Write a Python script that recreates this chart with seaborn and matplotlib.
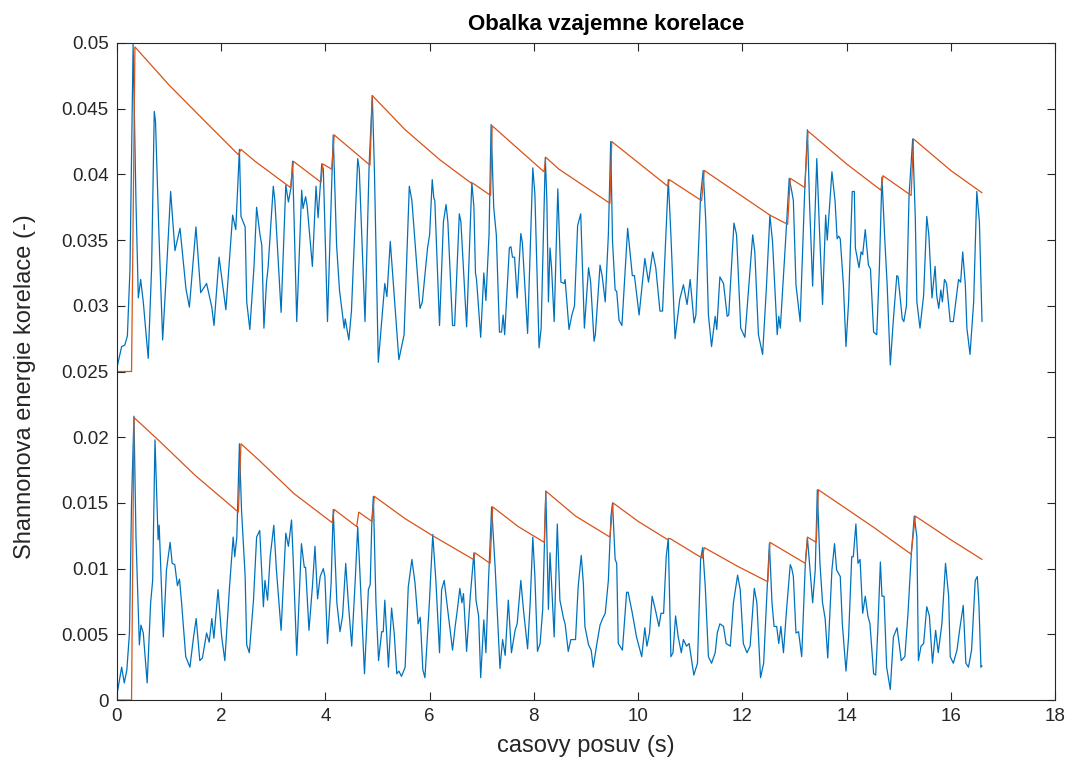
import matplotlib
matplotlib.use("Agg")
import matplotlib.pyplot as plt
import seaborn as sns
import pandas as pd

# ---- upper signal (blue) ----
top_t = [0.00, 0.09, 0.15, 0.20, 0.25, 0.31, 0.365, 0.41, 0.455, 0.505, 0.60, 0.665, 0.716, 0.74, 0.806, 0.877,
         0.954, 1.03, 1.113, 1.21, 1.324, 1.39, 1.516, 1.607, 1.72, 1.82, 1.862, 1.96, 2.09, 2.22, 2.28, 2.35,
         2.38, 2.46, 2.49, 2.55, 2.63, 2.68, 2.745, 2.78, 2.82, 2.87, 2.90, 3.00, 3.03, 3.15, 3.24, 3.29, 3.34,
         3.37, 3.45, 3.545, 3.57, 3.62, 3.65, 3.75, 3.82, 3.86, 3.93, 3.96, 4.04, 4.15, 4.215, 4.27, 4.36, 4.38,
         4.45, 4.50, 4.62, 4.65, 4.76, 4.84, 4.90, 4.94, 5.015, 5.14, 5.18, 5.245, 5.28, 5.41, 5.51, 5.61, 5.66,
         5.815, 5.86, 5.96, 6.00, 6.05, 6.08, 6.10, 6.19, 6.265, 6.315, 6.35, 6.44, 6.48, 6.57, 6.60, 6.71, 6.81,
         6.85, 6.88, 6.90, 6.98, 7.04, 7.08, 7.14, 7.18, 7.23, 7.28, 7.34, 7.38, 7.41, 7.44, 7.53, 7.56, 7.59,
         7.63, 7.68, 7.75, 7.78, 7.88, 7.98, 8.02, 8.10, 8.14, 8.22, 8.25, 8.28, 8.31, 8.34, 8.39, 8.46, 8.52,
         8.58, 8.60, 8.675, 8.73, 8.78, 8.84, 8.90, 8.97, 9.05, 9.09, 9.155, 9.18, 9.27, 9.31, 9.37, 9.43, 9.475,
         9.51, 9.56, 9.59, 9.635, 9.69, 9.80, 9.89, 9.93, 10.02, 10.13, 10.20, 10.28, 10.34, 10.42, 10.47, 10.58,
         10.63, 10.71, 10.80, 10.87, 10.94, 11.00, 11.075, 11.11, 11.20, 11.25, 11.30, 11.35, 11.41, 11.48, 11.51,
         11.57, 11.64, 11.71, 11.74, 11.84, 11.89, 11.97, 12.05, 12.13, 12.20, 12.24, 12.31, 12.39, 12.46, 12.53,
         12.58, 12.67, 12.70, 12.73, 12.83, 12.90, 12.95, 12.98, 13.03, 13.11, 13.20, 13.25, 13.29, 13.35, 13.43,
         13.48, 13.54, 13.60, 13.63, 13.72, 13.78, 13.82, 13.85, 13.88, 13.94, 13.99, 14.04, 14.11, 14.15, 14.17,
         14.24, 14.28, 14.31, 14.36, 14.42, 14.46, 14.52, 14.58, 14.63, 14.68, 14.73, 14.78, 14.84, 14.90, 14.965,
         14.99, 15.07, 15.10, 15.15, 15.20, 15.27, 15.32, 15.35, 15.41, 15.48, 15.54, 15.58, 15.64, 15.70, 15.73,
         15.77, 15.81, 15.84, 15.88, 15.92, 15.99, 16.05, 16.15, 16.19, 16.23, 16.28, 16.31, 16.37, 16.44, 16.50,
         16.55, 16.60]
top_v = [0.0253, 0.0269, 0.0270, 0.0277, 0.0328, 0.0499, 0.0379, 0.0306, 0.0320, 0.0303, 0.0260, 0.0329, 0.0448,
         0.0440, 0.0354, 0.0274, 0.0329, 0.0387, 0.0342, 0.0359, 0.0313, 0.0299, 0.0360, 0.0310, 0.0317, 0.0299,
         0.0285, 0.0337, 0.0297, 0.0369, 0.0358, 0.0419, 0.0368, 0.0360, 0.0303, 0.0282, 0.0330, 0.0375, 0.0354,
         0.0346, 0.0283, 0.0318, 0.0329, 0.0391, 0.0380, 0.0295, 0.0392, 0.0379, 0.0390, 0.0410, 0.0288, 0.0388,
         0.0374, 0.0383, 0.0376, 0.0330, 0.0391, 0.0367, 0.0408, 0.0404, 0.0288, 0.0430, 0.0346, 0.0312, 0.0283,
         0.0290, 0.0274, 0.0296, 0.0412, 0.0404, 0.0288, 0.0408, 0.0460, 0.0404, 0.0257, 0.0317, 0.0307, 0.0349,
         0.0330, 0.0259, 0.0278, 0.0391, 0.0380, 0.0298, 0.0303, 0.0344, 0.0354, 0.0396, 0.0382, 0.0380, 0.0285,
         0.0364, 0.0377, 0.0364, 0.0285, 0.0285, 0.0370, 0.0364, 0.0284, 0.0394, 0.0375, 0.0325, 0.0320, 0.0276,
         0.0325, 0.0304, 0.0354, 0.0438, 0.0375, 0.0354, 0.0280, 0.0280, 0.0293, 0.0278, 0.0344, 0.0345, 0.0337,
         0.0337, 0.0306, 0.0355, 0.0348, 0.0279, 0.0405, 0.0385, 0.0268, 0.0283, 0.0413, 0.0380, 0.0303, 0.0344,
         0.0329, 0.0288, 0.0389, 0.0318, 0.0317, 0.0320, 0.0282, 0.0293, 0.0300, 0.0361, 0.0370, 0.0283, 0.0329,
         0.0318, 0.0273, 0.0278, 0.0331, 0.0323, 0.0303, 0.0354, 0.0425, 0.0349, 0.0312, 0.0311, 0.0289, 0.0285,
         0.0359, 0.0323, 0.0323, 0.0293, 0.0336, 0.0318, 0.0341, 0.0329, 0.0296, 0.0296, 0.0396, 0.0354, 0.0275,
         0.0305, 0.0316, 0.0301, 0.0320, 0.0287, 0.0293, 0.0384, 0.0403, 0.0364, 0.0293, 0.0269, 0.0292, 0.0282,
         0.0322, 0.0317, 0.0292, 0.0293, 0.0363, 0.0354, 0.0283, 0.0276, 0.0318, 0.0354, 0.0341, 0.0278, 0.0263,
         0.0312, 0.0369, 0.0349, 0.0278, 0.0292, 0.0283, 0.0349, 0.0397, 0.0387, 0.0380, 0.0316, 0.0288, 0.0390,
         0.0434, 0.0379, 0.0315, 0.0412, 0.0359, 0.0301, 0.0369, 0.0350, 0.0402, 0.0380, 0.0351, 0.0353, 0.0351,
         0.0316, 0.0269, 0.0303, 0.0387, 0.0387, 0.0344, 0.0329, 0.0341, 0.0339, 0.0358, 0.0331, 0.0328, 0.0280,
         0.0278, 0.0328, 0.0398, 0.0354, 0.0316, 0.0255, 0.0290, 0.0323, 0.0322, 0.0290, 0.0288, 0.0300, 0.0384,
         0.0427, 0.0367, 0.0303, 0.0283, 0.0308, 0.0368, 0.0354, 0.0306, 0.0330, 0.0308, 0.0298, 0.0312, 0.0303,
         0.0320, 0.0317, 0.0288, 0.0288, 0.0320, 0.0318, 0.0341, 0.0316, 0.0283, 0.0263, 0.0303, 0.0387, 0.0364,
         0.0288]

# ---- upper envelope (orange) ----
top_env_t = [0.0, 0.28, 0.345, 1.0, 1.7, 2.33, 2.38, 2.65, 3.33, 3.385, 3.915, 3.95, 4.12, 4.17, 4.856, 4.90,
             5.53, 6.2, 6.81, 6.84, 7.17, 7.20, 8.195, 8.23, 8.48, 9.46, 9.495, 10.57, 10.60, 11.22, 11.27, 12.53,
             12.87, 12.92, 13.20, 13.26, 14.0, 14.66, 14.70, 15.24, 15.285, 16.0, 16.60]
top_env_v = [0.0250, 0.0250, 0.0497, 0.0468, 0.0440, 0.0415, 0.0419, 0.0410, 0.0390, 0.0410, 0.0394, 0.0408,
             0.0404, 0.0430, 0.0407, 0.0460, 0.0434, 0.0411, 0.0393, 0.0393, 0.0384, 0.0437, 0.0402, 0.0413, 0.0404,
             0.0378, 0.0425, 0.0391, 0.0396, 0.0380, 0.0403, 0.0369, 0.0362, 0.0397, 0.0390, 0.0433, 0.0408,
             0.0388, 0.0399, 0.0384, 0.0427, 0.0403, 0.0386]

# ---- lower signal (blue) ----
bot_t = [0.00, 0.09, 0.14, 0.19, 0.24, 0.28, 0.326, 0.365, 0.43, 0.46, 0.505, 0.58, 0.646, 0.685, 0.73, 0.79,
         0.81, 0.89, 0.95, 1.02, 1.06, 1.11, 1.16, 1.20, 1.24, 1.32, 1.40, 1.47, 1.52, 1.59, 1.64, 1.72, 1.77,
         1.82, 1.86, 1.94, 2.01, 2.07, 2.16, 2.23, 2.26, 2.30, 2.35, 2.39, 2.46, 2.49, 2.54, 2.62, 2.68, 2.74,
         2.81, 2.84, 2.89, 2.94, 3.01, 3.06, 3.15, 3.24, 3.29, 3.35, 3.38, 3.45, 3.54, 3.595, 3.62, 3.685, 3.75,
         3.80, 3.85, 3.90, 3.96, 3.99, 4.04, 4.11, 4.15, 4.22, 4.28, 4.33, 4.39, 4.44, 4.505, 4.57, 4.62, 4.66,
         4.75, 4.825, 4.86, 4.89, 4.92, 4.97, 5.02, 5.08, 5.11, 5.14, 5.21, 5.27, 5.32, 5.37, 5.41, 5.46, 5.53,
         5.59, 5.66, 5.72, 5.78, 5.82, 5.87, 5.91, 5.995, 6.06, 6.12, 6.19, 6.23, 6.28, 6.33, 6.37, 6.44, 6.49,
         6.53, 6.58, 6.62, 6.65, 6.71, 6.78, 6.85, 6.89, 6.94, 6.98, 7.04, 7.08, 7.13, 7.19, 7.26, 7.29, 7.35,
         7.40, 7.45, 7.51, 7.57, 7.64, 7.68, 7.75, 7.80, 7.88, 7.93, 7.98, 8.02, 8.07, 8.12, 8.17, 8.23, 8.28,
         8.31, 8.34, 8.39, 8.45, 8.50, 8.57, 8.60, 8.66, 8.71, 8.80, 8.85, 8.91, 8.95, 8.98, 9.05, 9.10, 9.14,
         9.21, 9.27, 9.32, 9.37, 9.43, 9.48, 9.51, 9.56, 9.59, 9.62, 9.70, 9.78, 9.81, 9.89, 9.97, 10.07, 10.13,
         10.17, 10.22, 10.27, 10.33, 10.40, 10.44, 10.49, 10.54, 10.58, 10.63, 10.67, 10.72, 10.77, 10.83, 10.87,
         10.93, 10.98, 11.07, 11.14, 11.20, 11.24, 11.29, 11.35, 11.41, 11.48, 11.52, 11.57, 11.64, 11.69, 11.77,
         11.83, 11.91, 11.96, 12.02, 12.09, 12.15, 12.23, 12.28, 12.35, 12.41, 12.47, 12.52, 12.57, 12.61, 12.66,
         12.70, 12.74, 12.79, 12.85, 12.92, 12.95, 12.98, 13.03, 13.08, 13.14, 13.21, 13.25, 13.29, 13.35, 13.40,
         13.44, 13.49, 13.54, 13.59, 13.64, 13.72, 13.77, 13.81, 13.88, 13.92, 13.99, 14.04, 14.10, 14.13, 14.18,
         14.22, 14.26, 14.31, 14.36, 14.41, 14.45, 14.52, 14.56, 14.60, 14.65, 14.68, 14.72, 14.77, 14.84, 14.90,
         14.97, 15.01, 15.05, 15.12, 15.18, 15.24, 15.30, 15.35, 15.38, 15.43, 15.48, 15.54, 15.59, 15.65, 15.71,
         15.76, 15.83, 15.90, 15.96, 15.99, 16.05, 16.12, 16.18, 16.24, 16.29, 16.34, 16.40, 16.47, 16.51, 16.54,
         16.58, 16.60]
bot_v = [0.0004, 0.0025, 0.0013, 0.0023, 0.0051, 0.0150, 0.0216, 0.0124, 0.0042, 0.0057, 0.0051, 0.0013, 0.0074,
         0.0091, 0.0198, 0.0122, 0.0133, 0.0048, 0.0099, 0.0120, 0.0104, 0.0103, 0.0087, 0.0092, 0.0074, 0.0033,
         0.0025, 0.0048, 0.0062, 0.0030, 0.0032, 0.0051, 0.0044, 0.0062, 0.0047, 0.0084, 0.0048, 0.0030, 0.0086,
         0.0124, 0.0109, 0.0124, 0.0195, 0.0145, 0.0094, 0.0042, 0.0036, 0.0076, 0.0124, 0.0129, 0.0071, 0.0091,
         0.0076, 0.0109, 0.0133, 0.0099, 0.0053, 0.0127, 0.0117, 0.0137, 0.0109, 0.0034, 0.0119, 0.0101, 0.0101,
         0.0053, 0.0086, 0.0117, 0.0077, 0.0094, 0.0100, 0.0094, 0.0043, 0.0089, 0.0145, 0.0074, 0.0052, 0.0064,
         0.0104, 0.0074, 0.0041, 0.0089, 0.0132, 0.0099, 0.0020, 0.0084, 0.0088, 0.0134, 0.0155, 0.0074, 0.0030,
         0.0052, 0.0052, 0.0076, 0.0025, 0.0070, 0.0051, 0.0020, 0.0022, 0.0018, 0.0025, 0.0086, 0.0107, 0.0089,
         0.0058, 0.0063, 0.0023, 0.0017, 0.0074, 0.0126, 0.0091, 0.0036, 0.0084, 0.0091, 0.0074, 0.0061, 0.0038,
         0.0056, 0.0068, 0.0085, 0.0074, 0.0081, 0.0037, 0.0079, 0.0112, 0.0076, 0.0064, 0.0017, 0.0061, 0.0036,
         0.0091, 0.0147, 0.0099, 0.0074, 0.0024, 0.0046, 0.0034, 0.0076, 0.0036, 0.0053, 0.0058, 0.0091, 0.0069,
         0.0039, 0.0074, 0.0124, 0.0094, 0.0037, 0.0043, 0.0069, 0.0159, 0.0069, 0.0112, 0.0089, 0.0048, 0.0134,
         0.0076, 0.0062, 0.0058, 0.0037, 0.0046, 0.0046, 0.0086, 0.0110, 0.0089, 0.0056, 0.0042, 0.0038, 0.0025,
         0.0043, 0.0057, 0.0062, 0.0066, 0.0091, 0.0140, 0.0150, 0.0107, 0.0104, 0.0043, 0.0038, 0.0082, 0.0082,
         0.0066, 0.0048, 0.0033, 0.0055, 0.0041, 0.0051, 0.0079, 0.0069, 0.0056, 0.0066, 0.0066, 0.0109, 0.0123,
         0.0033, 0.0036, 0.0064, 0.0048, 0.0036, 0.0046, 0.0041, 0.0043, 0.0019, 0.0028, 0.0107, 0.0116, 0.0086,
         0.0033, 0.0028, 0.0036, 0.0051, 0.0058, 0.0056, 0.0043, 0.0041, 0.0074, 0.0095, 0.0084, 0.0043, 0.0036,
         0.0041, 0.0085, 0.0074, 0.0017, 0.0028, 0.0079, 0.0119, 0.0074, 0.0056, 0.0056, 0.0043, 0.0056, 0.0036,
         0.0069, 0.0103, 0.0100, 0.0094, 0.0051, 0.0052, 0.0033, 0.0104, 0.0123, 0.0104, 0.0074, 0.0099, 0.0160,
         0.0104, 0.0074, 0.0062, 0.0032, 0.0099, 0.0119, 0.0099, 0.0094, 0.0058, 0.0022, 0.0048, 0.0109, 0.0109,
         0.0134, 0.0104, 0.0107, 0.0066, 0.0079, 0.0064, 0.0058, 0.0020, 0.0019, 0.0053, 0.0105, 0.0079, 0.0079,
         0.0025, 0.0008, 0.0048, 0.0055, 0.0043, 0.0030, 0.0033, 0.0066, 0.0109, 0.0140, 0.0124, 0.0030, 0.0041,
         0.0043, 0.0071, 0.0064, 0.0028, 0.0053, 0.0036, 0.0058, 0.0104, 0.0079, 0.0033, 0.0028, 0.0038, 0.0056,
         0.0072, 0.0028, 0.0025, 0.0038, 0.0091, 0.0094, 0.0074, 0.0025, 0.0026]

# ---- lower envelope (orange) ----
bot_env_t = [0.0, 0.28, 0.326, 0.79, 1.5, 2.33, 2.38, 2.74, 3.4, 4.13, 4.17, 4.60, 4.64, 4.89, 4.94, 5.53, 6.06,
             6.84, 6.87, 7.16, 7.21, 7.7, 8.20, 8.23, 8.8, 9.46, 9.52, 10.0, 10.57, 10.61, 11.23, 11.27, 11.9, 12.49,
             12.53, 13.21, 13.25, 13.42, 13.46, 14.5, 15.24, 15.32, 16.0, 16.60]
bot_env_v = [0.0, 0.0, 0.0215, 0.0198, 0.0171, 0.0143, 0.0195, 0.0182, 0.0157, 0.0135, 0.0145, 0.0132, 0.0143,
             0.0136, 0.0155, 0.0138, 0.0125, 0.0107, 0.0112, 0.0104, 0.0147, 0.0132, 0.0120, 0.0159, 0.0140,
             0.0124, 0.0150, 0.0136, 0.0122, 0.0123, 0.0108, 0.0116, 0.0102, 0.0090, 0.0120, 0.0104, 0.0124,
             0.0120, 0.0160, 0.0132, 0.0111, 0.0140, 0.0122, 0.0107]

x_ticks = [0, 2, 4, 6, 8, 10, 12, 14, 16, 18]
y_ticks = [0, 0.005, 0.01, 0.015, 0.02, 0.025, 0.03, 0.035, 0.04, 0.045, 0.05]
y_ticklabels = ["0", "0.005", "0.01", "0.015", "0.02", "0.025", "0.03", "0.035", "0.04", "0.045", "0.05"]
title = "Obalka vzajemne korelace"
xlabel = "casovy posuv (s)"
ylabel = "Shannonova energie korelace (-)"

BLUE = "#0072BD"
ORANGE = "#D95319"
AX = "#262626"

sns.set_theme(style="white")
plt.rcParams["font.family"] = ["Liberation Sans", "DejaVu Sans"]

fig = plt.figure(figsize=(10.72, 7.76), dpi=100)
ax = fig.add_axes([0.1091, 0.0979, 0.8750, 0.8467])

series = [
    (top_t, top_v, BLUE),
    (top_env_t, top_env_v, ORANGE),
    (bot_t, bot_v, BLUE),
    (bot_env_t, bot_env_v, ORANGE),
]
for t, v, c in series:
    df = pd.DataFrame({"t": t, "v": v})
    sns.lineplot(data=df, x="t", y="v", ax=ax, color=c, linewidth=0.9,
                 estimator=None, sort=False, legend=False)

ax.set_xlim(0, 18)
ax.set_ylim(0, 0.05)
ax.set_xticks(x_ticks)
ax.set_yticks(y_ticks)
ax.set_yticklabels(y_ticklabels)
ax.set_title(title, fontsize=16, fontweight="bold", color="black", pad=9, x=0.522)
ax.set_xlabel(xlabel, fontsize=17, color=AX, labelpad=7)
ax.set_ylabel(ylabel, fontsize=17, color=AX, labelpad=8)
ax.yaxis.set_label_coords(-0.086, 0.477)

for s in ax.spines.values():
    s.set_visible(True)
    s.set_color(AX)
    s.set_linewidth(0.8)
ax.tick_params(axis="both", which="both", direction="in", length=6, width=0.8, color=AX,
               labelsize=13.5, labelcolor=AX, top=True, right=True, bottom=True, left=True, pad=6)
ax.grid(False)

fig.savefig("out.png", dpi=100)
